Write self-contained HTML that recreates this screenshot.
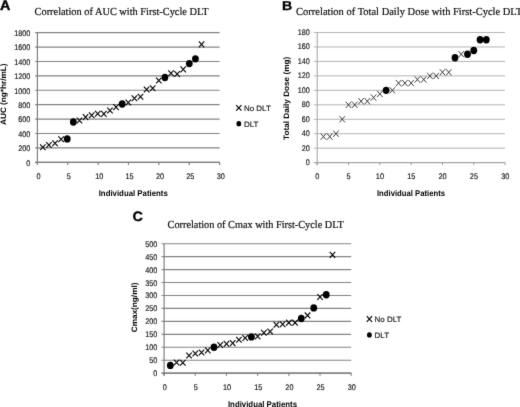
<!DOCTYPE html>
<html><head><meta charset="utf-8"><title>Figure</title>
<style>
html,body{margin:0;padding:0;background:#fff;}
svg{display:block;}
svg text{font-family:"Liberation Sans", Arial, sans-serif;text-rendering:geometricPrecision;}
svg text.ttl{font-family:"Liberation Serif", "Times New Roman", serif;stroke:#111;stroke-width:0.2px;}
svg text.rg{stroke:#111;stroke-width:0.15px;}
</style></head>
<body>
<svg width="520" height="407" viewBox="0 0 520 407">
<defs>
<filter id="soft" x="0" y="0" width="520" height="407" filterUnits="userSpaceOnUse" color-interpolation-filters="sRGB">
<feColorMatrix type="saturate" values="0"/>
<feConvolveMatrix order="3" kernelMatrix="0.0081 0.0738 0.0081 0.0738 0.6724 0.0738 0.0081 0.0738 0.0081" edgeMode="duplicate" preserveAlpha="true"/>
</filter>
</defs>
<g filter="url(#soft)">
<rect width="520" height="407" fill="#fff"/>
<g id="panelA">
<line x1="35.1" y1="162.3" x2="219.6" y2="162.3" stroke="#848484" stroke-width="1.15"/>
<text transform="translate(30.3 165.6) scale(0.89 1)" text-anchor="end" font-size="8.15" fill="#111" class="rg">0</text>
<line x1="35.1" y1="147.89" x2="219.6" y2="147.89" stroke="#848484" stroke-width="1.15"/>
<text transform="translate(30.3 151.19) scale(0.89 1)" text-anchor="end" font-size="8.15" fill="#111" class="rg">200</text>
<line x1="35.1" y1="133.49" x2="219.6" y2="133.49" stroke="#848484" stroke-width="1.15"/>
<text transform="translate(30.3 136.79) scale(0.89 1)" text-anchor="end" font-size="8.15" fill="#111" class="rg">400</text>
<line x1="35.1" y1="119.08" x2="219.6" y2="119.08" stroke="#848484" stroke-width="1.15"/>
<text transform="translate(30.3 122.38) scale(0.89 1)" text-anchor="end" font-size="8.15" fill="#111" class="rg">600</text>
<line x1="35.1" y1="104.68" x2="219.6" y2="104.68" stroke="#848484" stroke-width="1.15"/>
<text transform="translate(30.3 107.98) scale(0.89 1)" text-anchor="end" font-size="8.15" fill="#111" class="rg">800</text>
<line x1="35.1" y1="90.27" x2="219.6" y2="90.27" stroke="#848484" stroke-width="1.15"/>
<text transform="translate(30.3 93.57) scale(0.89 1)" text-anchor="end" font-size="8.15" fill="#111" class="rg">1000</text>
<line x1="35.1" y1="75.87" x2="219.6" y2="75.87" stroke="#848484" stroke-width="1.15"/>
<text transform="translate(30.3 79.17) scale(0.89 1)" text-anchor="end" font-size="8.15" fill="#111" class="rg">1200</text>
<line x1="35.1" y1="61.46" x2="219.6" y2="61.46" stroke="#848484" stroke-width="1.15"/>
<text transform="translate(30.3 64.76) scale(0.89 1)" text-anchor="end" font-size="8.15" fill="#111" class="rg">1400</text>
<line x1="35.1" y1="47.06" x2="219.6" y2="47.06" stroke="#848484" stroke-width="1.15"/>
<text transform="translate(30.3 50.36) scale(0.89 1)" text-anchor="end" font-size="8.15" fill="#111" class="rg">1600</text>
<line x1="35.1" y1="32.65" x2="219.6" y2="32.65" stroke="#848484" stroke-width="1.15"/>
<text transform="translate(30.3 35.95) scale(0.89 1)" text-anchor="end" font-size="8.15" fill="#111" class="rg">1800</text>
<line x1="37.4" y1="32.65" x2="37.4" y2="164.9" stroke="#7c7c7c" stroke-width="1.15"/>
<line x1="35.1" y1="162.3" x2="219.6" y2="162.3" stroke="#7c7c7c" stroke-width="1.15"/>
<line x1="37.4" y1="162.3" x2="37.4" y2="164.9" stroke="#7c7c7c" stroke-width="1.15"/>
<text transform="translate(38.5 178.9) scale(0.9 1)" text-anchor="middle" font-size="8.15" fill="#111" class="rg">0</text>
<line x1="67.77" y1="162.3" x2="67.77" y2="164.9" stroke="#7c7c7c" stroke-width="1.15"/>
<text transform="translate(68.87 178.9) scale(0.9 1)" text-anchor="middle" font-size="8.15" fill="#111" class="rg">5</text>
<line x1="98.13" y1="162.3" x2="98.13" y2="164.9" stroke="#7c7c7c" stroke-width="1.15"/>
<text transform="translate(99.23 178.9) scale(0.9 1)" text-anchor="middle" font-size="8.15" fill="#111" class="rg">10</text>
<line x1="128.5" y1="162.3" x2="128.5" y2="164.9" stroke="#7c7c7c" stroke-width="1.15"/>
<text transform="translate(129.6 178.9) scale(0.9 1)" text-anchor="middle" font-size="8.15" fill="#111" class="rg">15</text>
<line x1="158.87" y1="162.3" x2="158.87" y2="164.9" stroke="#7c7c7c" stroke-width="1.15"/>
<text transform="translate(159.97 178.9) scale(0.9 1)" text-anchor="middle" font-size="8.15" fill="#111" class="rg">20</text>
<line x1="189.23" y1="162.3" x2="189.23" y2="164.9" stroke="#7c7c7c" stroke-width="1.15"/>
<text transform="translate(190.33 178.9) scale(0.9 1)" text-anchor="middle" font-size="8.15" fill="#111" class="rg">25</text>
<line x1="219.6" y1="162.3" x2="219.6" y2="164.9" stroke="#7c7c7c" stroke-width="1.15"/>
<text transform="translate(220.7 178.9) scale(0.9 1)" text-anchor="middle" font-size="8.15" fill="#111" class="rg">30</text>
<path d="M40.06 144.26L45.56 150.09M40.06 150.09L45.56 144.26" stroke="#000" stroke-width="1.1" fill="none"/>
<path d="M46.16 142.1L51.66 147.93M46.16 147.93L51.66 142.1" stroke="#000" stroke-width="1.1" fill="none"/>
<path d="M52.27 140.3L57.77 146.13M52.27 146.13L57.77 140.3" stroke="#000" stroke-width="1.1" fill="none"/>
<path d="M58.37 136.34L63.87 142.17M58.37 142.17L63.87 136.34" stroke="#000" stroke-width="1.1" fill="none"/>
<ellipse cx="67.23" cy="138.89" rx="3.4" ry="3.71" fill="#000"/>
<ellipse cx="73.33" cy="121.96" rx="3.4" ry="3.71" fill="#000"/>
<path d="M76.69 117.61L82.19 123.44M76.69 123.44L82.19 117.61" stroke="#000" stroke-width="1.1" fill="none"/>
<path d="M82.79 114.22L88.29 120.05M82.79 120.05L88.29 114.22" stroke="#000" stroke-width="1.1" fill="none"/>
<path d="M88.9 112.28L94.4 118.11M88.9 118.11L94.4 112.28" stroke="#000" stroke-width="1.1" fill="none"/>
<path d="M95 110.77L100.5 116.6M95 116.6L100.5 110.77" stroke="#000" stroke-width="1.1" fill="none"/>
<path d="M101.11 110.98L106.61 116.81M101.11 116.81L106.61 110.98" stroke="#000" stroke-width="1.1" fill="none"/>
<path d="M107.21 107.52L112.71 113.36M107.21 113.36L112.71 107.52" stroke="#000" stroke-width="1.1" fill="none"/>
<path d="M113.32 104.21L118.82 110.04M113.32 110.04L118.82 104.21" stroke="#000" stroke-width="1.1" fill="none"/>
<ellipse cx="122.17" cy="103.96" rx="3.4" ry="3.71" fill="#000"/>
<path d="M125.53 99.6L131.03 105.43M125.53 105.43L131.03 99.6" stroke="#000" stroke-width="1.1" fill="none"/>
<path d="M131.63 95.28L137.13 101.11M131.63 101.11L137.13 95.28" stroke="#000" stroke-width="1.1" fill="none"/>
<path d="M137.74 93.77L143.24 99.6M137.74 99.6L143.24 93.77" stroke="#000" stroke-width="1.1" fill="none"/>
<path d="M143.84 86.64L149.34 92.47M143.84 92.47L149.34 86.64" stroke="#000" stroke-width="1.1" fill="none"/>
<path d="M149.94 85.27L155.44 91.1M149.94 91.1L155.44 85.27" stroke="#000" stroke-width="1.1" fill="none"/>
<path d="M156.05 77.63L161.55 83.46M156.05 83.46L161.55 77.63" stroke="#000" stroke-width="1.1" fill="none"/>
<ellipse cx="164.91" cy="77.45" rx="3.4" ry="3.71" fill="#000"/>
<path d="M168.26 70.29L173.76 76.12M168.26 76.12L173.76 70.29" stroke="#000" stroke-width="1.1" fill="none"/>
<path d="M174.37 71.15L179.87 76.98M174.37 76.98L179.87 71.15" stroke="#000" stroke-width="1.1" fill="none"/>
<path d="M180.47 66.47L185.97 72.3M180.47 72.3L185.97 66.47" stroke="#000" stroke-width="1.1" fill="none"/>
<ellipse cx="189.32" cy="63.62" rx="3.4" ry="3.71" fill="#000"/>
<ellipse cx="195.43" cy="58.87" rx="3.4" ry="3.71" fill="#000"/>
<path d="M198.79 41.48L204.29 47.31M198.79 47.31L204.29 41.48" stroke="#000" stroke-width="1.1" fill="none"/>
<text transform="translate(133.25 195.8) scale(0.943 1)" text-anchor="middle" font-size="8.3" font-weight="bold" fill="#000">Individual Patients</text>
<text transform="translate(6.3 94.2) rotate(-90) scale(1.045 1)" text-anchor="middle" font-size="7.85" font-weight="bold" fill="#000">AUC (ng*hr/mL)</text>
<text transform="translate(0.1 10.1) scale(1.04 1)" font-size="13.8" font-weight="bold" fill="#000" stroke="#000" stroke-width="0.4">A</text>
<text transform="translate(34.6 15.4) scale(0.968 1)" class="ttl" font-size="10.7" fill="#111">Correlation of AUC with First-Cycle DLT</text>
<path d="M236.15 105.09L241.45 110.71M236.15 110.71L241.45 105.09" stroke="#000" stroke-width="1.15" fill="none"/>
<text x="244" y="111.1" font-size="7.95" fill="#111" class="rg">No DLT</text>
<ellipse cx="238.8" cy="123.7" rx="2.4" ry="2.62" fill="#000"/>
<text x="244" y="126.8" font-size="7.95" fill="#111" class="rg">DLT</text>
</g>
<g id="panelB">
<line x1="313.9" y1="162.65" x2="505.1" y2="162.65" stroke="#b4b4b4" stroke-width="1.0"/>
<text transform="translate(309.8 165.15) scale(0.89 1)" text-anchor="end" font-size="8.15" fill="#111" class="rg">0</text>
<line x1="313.9" y1="148.19" x2="505.1" y2="148.19" stroke="#b4b4b4" stroke-width="1.0"/>
<text transform="translate(309.8 150.69) scale(0.89 1)" text-anchor="end" font-size="8.15" fill="#111" class="rg">20</text>
<line x1="313.9" y1="133.73" x2="505.1" y2="133.73" stroke="#b4b4b4" stroke-width="1.0"/>
<text transform="translate(309.8 136.23) scale(0.89 1)" text-anchor="end" font-size="8.15" fill="#111" class="rg">40</text>
<line x1="313.9" y1="119.27" x2="505.1" y2="119.27" stroke="#b4b4b4" stroke-width="1.0"/>
<text transform="translate(309.8 121.77) scale(0.89 1)" text-anchor="end" font-size="8.15" fill="#111" class="rg">60</text>
<line x1="313.9" y1="104.81" x2="505.1" y2="104.81" stroke="#b4b4b4" stroke-width="1.0"/>
<text transform="translate(309.8 107.31) scale(0.89 1)" text-anchor="end" font-size="8.15" fill="#111" class="rg">80</text>
<line x1="313.9" y1="90.34" x2="505.1" y2="90.34" stroke="#b4b4b4" stroke-width="1.0"/>
<text transform="translate(309.8 92.84) scale(0.89 1)" text-anchor="end" font-size="8.15" fill="#111" class="rg">100</text>
<line x1="313.9" y1="75.88" x2="505.1" y2="75.88" stroke="#b4b4b4" stroke-width="1.0"/>
<text transform="translate(309.8 78.38) scale(0.89 1)" text-anchor="end" font-size="8.15" fill="#111" class="rg">120</text>
<line x1="313.9" y1="61.42" x2="505.1" y2="61.42" stroke="#b4b4b4" stroke-width="1.0"/>
<text transform="translate(309.8 63.92) scale(0.89 1)" text-anchor="end" font-size="8.15" fill="#111" class="rg">140</text>
<line x1="313.9" y1="46.96" x2="505.1" y2="46.96" stroke="#b4b4b4" stroke-width="1.0"/>
<text transform="translate(309.8 49.46) scale(0.89 1)" text-anchor="end" font-size="8.15" fill="#111" class="rg">160</text>
<line x1="313.9" y1="32.5" x2="505.1" y2="32.5" stroke="#b4b4b4" stroke-width="1.0"/>
<text transform="translate(309.8 35) scale(0.89 1)" text-anchor="end" font-size="8.15" fill="#111" class="rg">180</text>
<line x1="317.2" y1="32.5" x2="317.2" y2="165.25" stroke="#9c9c9c" stroke-width="0.95"/>
<line x1="313.9" y1="162.65" x2="505.1" y2="162.65" stroke="#9c9c9c" stroke-width="0.95"/>
<line x1="317.2" y1="162.65" x2="317.2" y2="165.25" stroke="#9c9c9c" stroke-width="0.95"/>
<text transform="translate(317.3 178.9) scale(0.9 1)" text-anchor="middle" font-size="8.15" fill="#111" class="rg">0</text>
<line x1="348.52" y1="162.65" x2="348.52" y2="165.25" stroke="#9c9c9c" stroke-width="0.95"/>
<text transform="translate(348.62 178.9) scale(0.9 1)" text-anchor="middle" font-size="8.15" fill="#111" class="rg">5</text>
<line x1="379.83" y1="162.65" x2="379.83" y2="165.25" stroke="#9c9c9c" stroke-width="0.95"/>
<text transform="translate(379.93 178.9) scale(0.9 1)" text-anchor="middle" font-size="8.15" fill="#111" class="rg">10</text>
<line x1="411.15" y1="162.65" x2="411.15" y2="165.25" stroke="#9c9c9c" stroke-width="0.95"/>
<text transform="translate(411.25 178.9) scale(0.9 1)" text-anchor="middle" font-size="8.15" fill="#111" class="rg">15</text>
<line x1="442.47" y1="162.65" x2="442.47" y2="165.25" stroke="#9c9c9c" stroke-width="0.95"/>
<text transform="translate(442.57 178.9) scale(0.9 1)" text-anchor="middle" font-size="8.15" fill="#111" class="rg">20</text>
<line x1="473.78" y1="162.65" x2="473.78" y2="165.25" stroke="#9c9c9c" stroke-width="0.95"/>
<text transform="translate(473.88 178.9) scale(0.9 1)" text-anchor="middle" font-size="8.15" fill="#111" class="rg">25</text>
<line x1="505.1" y1="162.65" x2="505.1" y2="165.25" stroke="#9c9c9c" stroke-width="0.95"/>
<text transform="translate(505.2 178.9) scale(0.9 1)" text-anchor="middle" font-size="8.15" fill="#111" class="rg">30</text>
<path d="M320.71 133.49L326.21 139.75M320.71 139.75L326.21 133.49" stroke="#2a2a2a" stroke-width="0.9" fill="none"/>
<path d="M326.98 133.49L332.48 139.75M326.98 139.75L332.48 133.49" stroke="#2a2a2a" stroke-width="0.9" fill="none"/>
<path d="M333.24 130.59L338.74 136.86M333.24 136.86L338.74 130.59" stroke="#2a2a2a" stroke-width="0.9" fill="none"/>
<path d="M339.5 116.13L345 122.4M339.5 122.4L345 116.13" stroke="#2a2a2a" stroke-width="0.9" fill="none"/>
<path d="M345.77 101.67L351.27 107.94M345.77 107.94L351.27 101.67" stroke="#2a2a2a" stroke-width="0.9" fill="none"/>
<path d="M352.03 101.67L357.53 107.94M352.03 107.94L357.53 101.67" stroke="#2a2a2a" stroke-width="0.9" fill="none"/>
<path d="M358.29 98.06L363.79 104.33M358.29 104.33L363.79 98.06" stroke="#2a2a2a" stroke-width="0.9" fill="none"/>
<path d="M364.56 98.06L370.06 104.33M364.56 104.33L370.06 98.06" stroke="#2a2a2a" stroke-width="0.9" fill="none"/>
<path d="M370.82 94.44L376.32 100.71M370.82 100.71L376.32 94.44" stroke="#2a2a2a" stroke-width="0.9" fill="none"/>
<path d="M377.08 90.82L382.58 97.09M377.08 97.09L382.58 90.82" stroke="#2a2a2a" stroke-width="0.9" fill="none"/>
<ellipse cx="386.1" cy="90.34" rx="3.4" ry="3.71" fill="#000"/>
<path d="M389.61 87.21L395.11 93.48M389.61 93.48L395.11 87.21" stroke="#2a2a2a" stroke-width="0.9" fill="none"/>
<path d="M395.87 79.98L401.37 86.25M395.87 86.25L401.37 79.98" stroke="#2a2a2a" stroke-width="0.9" fill="none"/>
<path d="M402.14 79.98L407.64 86.25M402.14 86.25L407.64 79.98" stroke="#2a2a2a" stroke-width="0.9" fill="none"/>
<path d="M408.4 79.98L413.9 86.25M408.4 86.25L413.9 79.98" stroke="#2a2a2a" stroke-width="0.9" fill="none"/>
<path d="M414.66 76.36L420.16 82.63M414.66 82.63L420.16 76.36" stroke="#2a2a2a" stroke-width="0.9" fill="none"/>
<path d="M420.93 76.36L426.43 82.63M420.93 82.63L426.43 76.36" stroke="#2a2a2a" stroke-width="0.9" fill="none"/>
<path d="M427.19 72.75L432.69 79.02M427.19 79.02L432.69 72.75" stroke="#2a2a2a" stroke-width="0.9" fill="none"/>
<path d="M433.45 72.75L438.95 79.02M433.45 79.02L438.95 72.75" stroke="#2a2a2a" stroke-width="0.9" fill="none"/>
<path d="M439.72 69.13L445.22 75.4M439.72 75.4L445.22 69.13" stroke="#2a2a2a" stroke-width="0.9" fill="none"/>
<path d="M445.98 69.13L451.48 75.4M445.98 75.4L451.48 69.13" stroke="#2a2a2a" stroke-width="0.9" fill="none"/>
<ellipse cx="454.99" cy="57.81" rx="3.4" ry="3.71" fill="#000"/>
<path d="M458.51 51.06L464.01 57.33M458.51 57.33L464.01 51.06" stroke="#2a2a2a" stroke-width="0.9" fill="none"/>
<ellipse cx="467.52" cy="54.19" rx="3.4" ry="3.71" fill="#000"/>
<ellipse cx="473.78" cy="50.58" rx="3.4" ry="3.71" fill="#000"/>
<ellipse cx="480.05" cy="39.73" rx="3.4" ry="3.71" fill="#000"/>
<ellipse cx="486.31" cy="39.73" rx="3.4" ry="3.71" fill="#000"/>
<text transform="translate(411 195.7) scale(0.928 1)" text-anchor="middle" font-size="8.3" font-weight="bold" fill="#000">Individual Patients</text>
<text transform="translate(289.3 98.4) rotate(-90) scale(1.045 1)" text-anchor="middle" font-size="7.85" font-weight="bold" fill="#000">Total Daily Dose (mg)</text>
<text transform="translate(282.1 9.9) scale(1.1 1)" font-size="12.9" font-weight="bold" fill="#000" stroke="#000" stroke-width="0.3">B</text>
<text transform="translate(296.1 15.4) scale(0.981 1)" class="ttl" font-size="10.7" fill="#111">Correlation of Total Daily Dose with First-Cycle DLT</text>
</g>
<g id="panelC">
<line x1="161.6" y1="373.15" x2="351.2" y2="373.15" stroke="#848484" stroke-width="1.15"/>
<text transform="translate(157.3 376.15) scale(0.89 1)" text-anchor="end" font-size="8.15" fill="#111" class="rg">0</text>
<line x1="161.6" y1="360.2" x2="351.2" y2="360.2" stroke="#848484" stroke-width="1.15"/>
<text transform="translate(157.3 363.2) scale(0.89 1)" text-anchor="end" font-size="8.15" fill="#111" class="rg">50</text>
<line x1="161.6" y1="347.26" x2="351.2" y2="347.26" stroke="#848484" stroke-width="1.15"/>
<text transform="translate(157.3 350.26) scale(0.89 1)" text-anchor="end" font-size="8.15" fill="#111" class="rg">100</text>
<line x1="161.6" y1="334.31" x2="351.2" y2="334.31" stroke="#848484" stroke-width="1.15"/>
<text transform="translate(157.3 337.31) scale(0.89 1)" text-anchor="end" font-size="8.15" fill="#111" class="rg">150</text>
<line x1="161.6" y1="321.37" x2="351.2" y2="321.37" stroke="#848484" stroke-width="1.15"/>
<text transform="translate(157.3 324.37) scale(0.89 1)" text-anchor="end" font-size="8.15" fill="#111" class="rg">200</text>
<line x1="161.6" y1="308.42" x2="351.2" y2="308.42" stroke="#848484" stroke-width="1.15"/>
<text transform="translate(157.3 311.42) scale(0.89 1)" text-anchor="end" font-size="8.15" fill="#111" class="rg">250</text>
<line x1="161.6" y1="295.48" x2="351.2" y2="295.48" stroke="#848484" stroke-width="1.15"/>
<text transform="translate(157.3 298.48) scale(0.89 1)" text-anchor="end" font-size="8.15" fill="#111" class="rg">300</text>
<line x1="161.6" y1="282.53" x2="351.2" y2="282.53" stroke="#848484" stroke-width="1.15"/>
<text transform="translate(157.3 285.53) scale(0.89 1)" text-anchor="end" font-size="8.15" fill="#111" class="rg">350</text>
<line x1="161.6" y1="269.59" x2="351.2" y2="269.59" stroke="#848484" stroke-width="1.15"/>
<text transform="translate(157.3 272.59) scale(0.89 1)" text-anchor="end" font-size="8.15" fill="#111" class="rg">400</text>
<line x1="161.6" y1="256.64" x2="351.2" y2="256.64" stroke="#848484" stroke-width="1.15"/>
<text transform="translate(157.3 259.64) scale(0.89 1)" text-anchor="end" font-size="8.15" fill="#111" class="rg">450</text>
<line x1="161.6" y1="243.7" x2="351.2" y2="243.7" stroke="#848484" stroke-width="1.15"/>
<text transform="translate(157.3 246.7) scale(0.89 1)" text-anchor="end" font-size="8.15" fill="#111" class="rg">500</text>
<line x1="164.1" y1="243.7" x2="164.1" y2="375.75" stroke="#7c7c7c" stroke-width="1.15"/>
<line x1="161.6" y1="373.15" x2="351.2" y2="373.15" stroke="#7c7c7c" stroke-width="1.15"/>
<line x1="164.1" y1="373.15" x2="164.1" y2="375.75" stroke="#7c7c7c" stroke-width="1.15"/>
<text transform="translate(164.7 390.4) scale(0.9 1)" text-anchor="middle" font-size="8.15" fill="#111" class="rg">0</text>
<line x1="195.28" y1="373.15" x2="195.28" y2="375.75" stroke="#7c7c7c" stroke-width="1.15"/>
<text transform="translate(195.88 390.4) scale(0.9 1)" text-anchor="middle" font-size="8.15" fill="#111" class="rg">5</text>
<line x1="226.47" y1="373.15" x2="226.47" y2="375.75" stroke="#7c7c7c" stroke-width="1.15"/>
<text transform="translate(227.07 390.4) scale(0.9 1)" text-anchor="middle" font-size="8.15" fill="#111" class="rg">10</text>
<line x1="257.65" y1="373.15" x2="257.65" y2="375.75" stroke="#7c7c7c" stroke-width="1.15"/>
<text transform="translate(258.25 390.4) scale(0.9 1)" text-anchor="middle" font-size="8.15" fill="#111" class="rg">15</text>
<line x1="288.83" y1="373.15" x2="288.83" y2="375.75" stroke="#7c7c7c" stroke-width="1.15"/>
<text transform="translate(289.43 390.4) scale(0.9 1)" text-anchor="middle" font-size="8.15" fill="#111" class="rg">20</text>
<line x1="320.02" y1="373.15" x2="320.02" y2="375.75" stroke="#7c7c7c" stroke-width="1.15"/>
<text transform="translate(320.62 390.4) scale(0.9 1)" text-anchor="middle" font-size="8.15" fill="#111" class="rg">25</text>
<line x1="351.2" y1="373.15" x2="351.2" y2="375.75" stroke="#7c7c7c" stroke-width="1.15"/>
<text transform="translate(351.8 390.4) scale(0.9 1)" text-anchor="middle" font-size="8.15" fill="#111" class="rg">30</text>
<ellipse cx="170.34" cy="365.38" rx="3.4" ry="3.71" fill="#000"/>
<path d="M173.82 359.62L179.32 365.45M173.82 365.45L179.32 359.62" stroke="#000" stroke-width="1.1" fill="none"/>
<path d="M180.06 359.88L185.56 365.71M180.06 365.71L185.56 359.88" stroke="#000" stroke-width="1.1" fill="none"/>
<path d="M186.3 352.63L191.8 358.46M186.3 358.46L191.8 352.63" stroke="#000" stroke-width="1.1" fill="none"/>
<path d="M192.53 350.56L198.03 356.39M192.53 356.39L198.03 350.56" stroke="#000" stroke-width="1.1" fill="none"/>
<path d="M198.77 349.52L204.27 355.35M198.77 355.35L204.27 349.52" stroke="#000" stroke-width="1.1" fill="none"/>
<path d="M205.01 347.45L210.51 353.28M205.01 353.28L210.51 347.45" stroke="#000" stroke-width="1.1" fill="none"/>
<ellipse cx="213.99" cy="347.26" rx="3.4" ry="3.71" fill="#000"/>
<path d="M217.48 342.01L222.98 347.84M217.48 347.84L222.98 342.01" stroke="#000" stroke-width="1.1" fill="none"/>
<path d="M223.72 340.98L229.22 346.81M223.72 346.81L229.22 340.98" stroke="#000" stroke-width="1.1" fill="none"/>
<path d="M229.95 340.2L235.45 346.03M229.95 346.03L235.45 340.2" stroke="#000" stroke-width="1.1" fill="none"/>
<path d="M236.19 336.84L241.69 342.67M236.19 342.67L241.69 336.84" stroke="#000" stroke-width="1.1" fill="none"/>
<path d="M242.43 335.02L247.93 340.85M242.43 340.85L247.93 335.02" stroke="#000" stroke-width="1.1" fill="none"/>
<ellipse cx="251.41" cy="336.9" rx="3.4" ry="3.71" fill="#000"/>
<path d="M254.9 333.47L260.4 339.3M254.9 339.3L260.4 333.47" stroke="#000" stroke-width="1.1" fill="none"/>
<path d="M261.14 329.85L266.64 335.68M261.14 335.68L266.64 329.85" stroke="#000" stroke-width="1.1" fill="none"/>
<path d="M267.37 328.55L272.87 334.38M267.37 334.38L272.87 328.55" stroke="#000" stroke-width="1.1" fill="none"/>
<path d="M273.61 321.82L279.11 327.65M273.61 327.65L279.11 321.82" stroke="#000" stroke-width="1.1" fill="none"/>
<path d="M279.85 321.3L285.35 327.13M279.85 327.13L285.35 321.3" stroke="#000" stroke-width="1.1" fill="none"/>
<path d="M286.08 319.75L291.58 325.58M286.08 325.58L291.58 319.75" stroke="#000" stroke-width="1.1" fill="none"/>
<path d="M292.32 319.75L297.82 325.58M292.32 325.58L297.82 319.75" stroke="#000" stroke-width="1.1" fill="none"/>
<ellipse cx="301.31" cy="318.52" rx="3.4" ry="3.71" fill="#000"/>
<path d="M304.79 312.5L310.29 318.33M304.79 318.33L310.29 312.5" stroke="#000" stroke-width="1.1" fill="none"/>
<ellipse cx="313.78" cy="307.91" rx="3.4" ry="3.71" fill="#000"/>
<path d="M317.27 294.12L322.77 299.95M317.27 299.95L322.77 294.12" stroke="#000" stroke-width="1.1" fill="none"/>
<ellipse cx="326.25" cy="294.7" rx="3.4" ry="3.71" fill="#000"/>
<path d="M329.74 251.92L335.24 257.75M329.74 257.75L335.24 251.92" stroke="#000" stroke-width="1.1" fill="none"/>
<text transform="translate(262.5 407) scale(0.943 1)" text-anchor="middle" font-size="8.3" font-weight="bold" fill="#000">Individual Patients</text>
<text transform="translate(136.7 307.4) rotate(-90) scale(1.045 1)" text-anchor="middle" font-size="7.85" font-weight="bold" fill="#000">Cmax(ng/ml)</text>
<text transform="translate(132.5 221.2) scale(1.06 1)" font-size="13.6" font-weight="bold" fill="#000" stroke="#000" stroke-width="0.3">C</text>
<text transform="translate(167.6 227.8) scale(0.961 1)" class="ttl" font-size="10.7" fill="#111">Correlation of Cmax with First-Cycle DLT</text>
<path d="M366.75 316.19L372.05 321.81M366.75 321.81L372.05 316.19" stroke="#000" stroke-width="1.15" fill="none"/>
<text x="374.6" y="322.2" font-size="7.95" fill="#111" class="rg">No DLT</text>
<ellipse cx="369.4" cy="334.9" rx="2.4" ry="2.62" fill="#000"/>
<text x="374.6" y="338" font-size="7.95" fill="#111" class="rg">DLT</text>
</g>
</g>
</svg>
</body></html>
